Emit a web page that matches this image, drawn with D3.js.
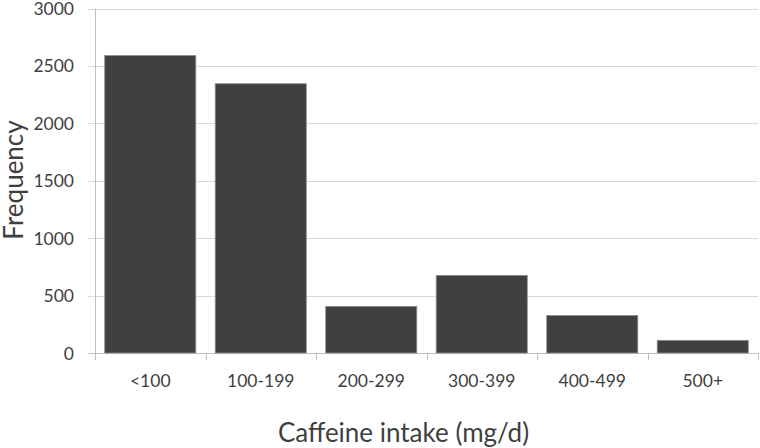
<!DOCTYPE html>
<html>
<head>
<meta charset="utf-8">
<script src="https://cdn.jsdelivr.net/npm/d3@7"></script>
<style>
  html, body { margin: 0; padding: 0; background: #fff; }
  svg { display: block; }
  text { font-family: Lato, "Open Sans", sans-serif; fill: #3f3f3f; }
</style>
</head>
<body>
<svg id="chart" width="760" height="448"></svg>
<script>
const categories = ["<100", "100-199", "200-299", "300-399", "400-499", "500+"];
const frequencies = [2590, 2345, 406, 676, 327, 110];
const yTicks = [0, 500, 1000, 1500, 2000, 2500, 3000];
const xTitle = "Caffeine intake (mg/d)";
const yTitle = "Frequency";

const svg = d3.select("#chart");
const mLeft = 95, mRight = 758, mTop = 8.5, mBottom = 353;

const x = d3.scaleBand().domain(categories).range([mLeft, mRight])
  .paddingInner(0.176).paddingOuter(0.088);
const y = d3.scaleLinear().domain([0, 3000]).range([mBottom, mTop]);

// gridlines + y ticks
svg.append("g").selectAll("line").data(yTicks).join("line")
  .attr("x1", mLeft - 7).attr("x2", mRight)
  .attr("y1", d => Math.round(y(d)) + 0.5).attr("y2", d => Math.round(y(d)) + 0.5)
  .attr("stroke", d => d === 0 ? "#bfbfbf" : "#d9d9d9").attr("stroke-width", 1);

// y axis line
svg.append("line").attr("x1", mLeft + 0.5).attr("x2", mLeft + 0.5)
  .attr("y1", y(3000)).attr("y2", mBottom).attr("stroke", "#bfbfbf");

// x category boundary ticks
const step = x.step();
const bounds = d3.range(categories.length + 1).map(i => mLeft + i * step);
svg.append("g").selectAll("line").data(bounds).join("line")
  .attr("x1", d => Math.round(d) + 0.5).attr("x2", d => Math.round(d) + 0.5)
  .attr("y1", mBottom).attr("y2", mBottom + 7)
  .attr("stroke", "#bfbfbf");

// bars
svg.append("g").selectAll("rect").data(frequencies).join("rect")
  .attr("x", (d, i) => x(categories[i]))
  .attr("width", x.bandwidth())
  .attr("y", d => y(d))
  .attr("height", d => mBottom - y(d))
  .attr("fill", "#404040")
  .attr("stroke", "#8c8c8c").attr("stroke-width", 0.8);

// y tick labels
svg.append("g").selectAll("text").data(yTicks).join("text")
  .attr("x", 74).attr("y", d => y(d) + 6.5)
  .attr("text-anchor", "end").attr("font-size", 17.5)
  .text(d => d);

// x tick labels
svg.append("g").selectAll("text").data(categories).join("text")
  .attr("x", d => x(d) + x.bandwidth() / 2).attr("y", 387)
  .attr("text-anchor", "middle").attr("font-size", 17.5)
  .text(d => d);

// axis titles
svg.append("text").attr("x", 403.5).attr("y", 442)
  .attr("text-anchor", "middle").attr("font-size", 26)
  .text(xTitle);

svg.append("text").attr("transform", "translate(23,180) rotate(-90)")
  .attr("text-anchor", "middle").attr("font-size", 26)
  .text(yTitle);
</script>
</body>
</html>
